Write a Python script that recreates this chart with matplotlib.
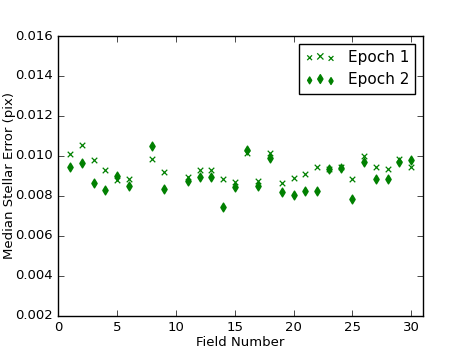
import matplotlib
matplotlib.use("Agg")
import matplotlib.pyplot as plt
from matplotlib.legend_handler import HandlerPathCollection

plt.style.use('classic')

fields = [1, 2, 3, 4, 5, 6, 8, 9, 11, 12, 13, 14, 15, 16, 17, 18, 19, 20,
          21, 22, 23, 24, 25, 26, 27, 28, 29, 30]
epoch1 = [0.01012, 0.01057, 0.00978, 0.00930, 0.00882, 0.00883, 0.00985, 0.00918,
          0.00893, 0.00932, 0.00932, 0.00883, 0.00870, 0.01013, 0.00873, 0.01017,
          0.00867, 0.00892, 0.00912, 0.00943, 0.00935, 0.00943, 0.00883, 0.01002,
          0.00943, 0.00935, 0.00985, 0.00945]
epoch2 = [0.00947, 0.00963, 0.00865, 0.00830, 0.00900, 0.00850, 0.01052, 0.00833,
          0.00875, 0.00895, 0.00897, 0.00743, 0.00845, 0.01032, 0.00852, 0.00988,
          0.00820, 0.00805, 0.00827, 0.00827, 0.00933, 0.00938, 0.00785, 0.00970,
          0.00887, 0.00885, 0.00968, 0.00978]

fig = plt.figure(figsize=(4.71, 3.53), dpi=100, facecolor='white')
ax = fig.add_axes([0.124, 0.105, 0.774, 0.793])
ax.scatter(fields, epoch1, marker='x', color='g', s=16, linewidths=0.9, label='Epoch 1')
ax.scatter(fields, epoch2, marker='d', color='g', edgecolors='g', s=20, label='Epoch 2')
ax.set_xlim(0, 31)
ax.set_ylim(0.002, 0.016)
ax.set_xticks([0, 5, 10, 15, 20, 25, 30])
ax.set_yticks([0.002, 0.004, 0.006, 0.008, 0.010, 0.012, 0.014, 0.016])
ax.set_yticklabels(['0.002', '0.004', '0.006', '0.008', '0.010', '0.012', '0.014', '0.016'])
ax.tick_params(labelsize=9.5)
ax.set_xlabel('Field Number', fontsize=9.5, labelpad=1)
ax.set_ylabel('Median Stellar Error (pix)', fontsize=9.5)
ax.yaxis.set_label_coords(-0.117, 0.5)
hm = HandlerPathCollection(sizes=[12, 20, 12])
leg = ax.legend(loc='upper right', fontsize=11, scatterpoints=3,
                handler_map={type(ax.collections[0]): hm})
fig.savefig('out.png', dpi=100, facecolor='white')
